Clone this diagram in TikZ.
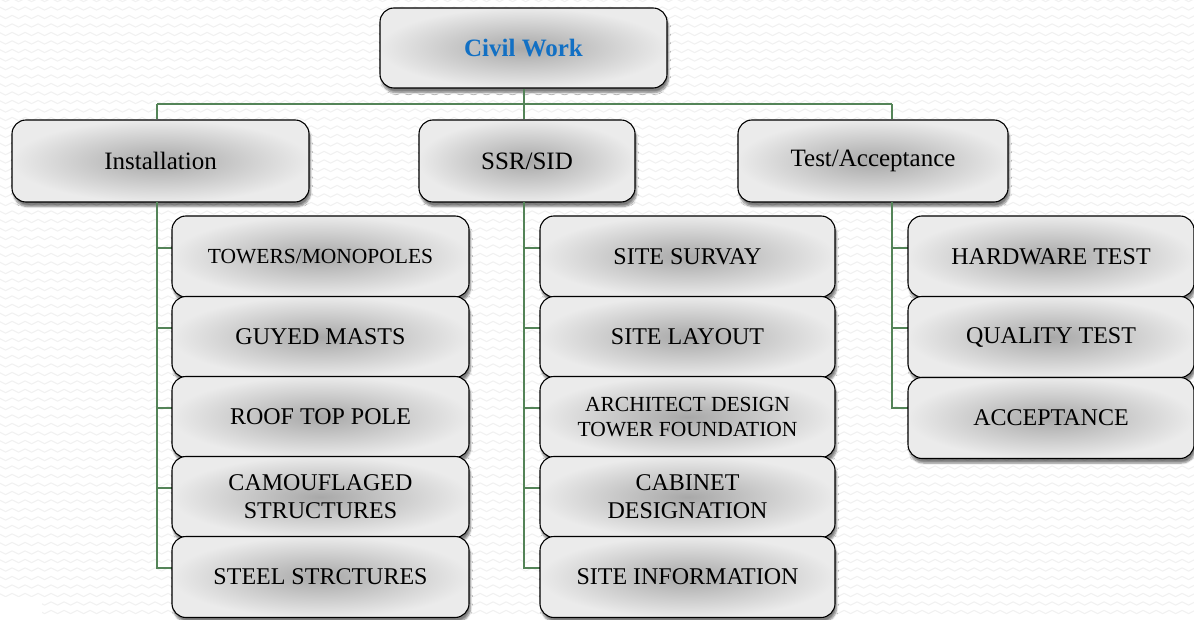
\documentclass[tikz,border=0pt]{standalone}
\usepackage{fontspec}
\setmainfont{Liberation Serif}
\usetikzlibrary{shadows,shadows.blur,decorations.pathmorphing,calc}
\definecolor{conngreen}{RGB}{84,132,88}
\definecolor{titleblue}{RGB}{18,112,196}
\definecolor{wavegray}{RGB}{241,241,241}
\tikzset{
  box/.style={draw=black, line width=1.1pt, rounded corners=14pt,
    inner color=black!34, outer color=black!8,
    blur shadow={shadow xshift=1.5pt, shadow yshift=-4.5pt, shadow blur steps=6, shadow opacity=50},
    align=center, text=black, inner sep=2pt},
  topbox/.style={box, minimum width=287pt, minimum height=80pt},
  midbox/.style={box, minimum height=82pt, font=\fontsize{25}{30}\selectfont},
  leaf/.style={box, minimum height=81pt, font=\fontsize{24}{28}\selectfont},
  conn/.style={draw=conngreen, line width=1.2pt},
}
\begin{document}
\begin{tikzpicture}[x=1pt,y=-1pt]
\useasboundingbox (0,0) rectangle (1194,620);
% faint wavy background
\begin{scope}
\clip (0,0) rectangle (1194,620);
\foreach \r in {0,8.5,...,620}{
  \draw[wavegray, line width=1.1pt, decorate, decoration={snake, amplitude=1.6pt, segment length=13pt}] (-5,\r) -- (1200,\r);
}
\fill[white] (0,597) rectangle (42,621);
\end{scope}

% top
\node[topbox, font=\fontsize{25}{30}\selectfont\bfseries, text=titleblue] (cw) at (523.5,48) {Civil Work};

% level 2
\node[midbox, minimum width=297pt] (inst) at (160.5,161) {Installation};
\node[midbox, minimum width=216pt] (ssr) at (527,161) {SSR/SID};
\node[midbox, minimum width=270pt] (test) at (873,161) {Test/Acceptance};

% bus coordinates
\coordinate (b1) at (157,104);
\coordinate (b2) at (524,104);
\coordinate (b3) at (892,104);

\draw[conn] (cw.south -| b2) -- (b2);
\draw[conn] (b1) -- (b3);
\draw[conn] (b1) -- (b1 |- inst.north);
\draw[conn] (b2) -- (b2 |- ssr.north);
\draw[conn] (b3) -- (b3 |- test.north);

% branch connectors (drawn before leaves)
\coordinate (c1) at (157,202);
\coordinate (c2) at (524,202);
\coordinate (c3) at (892,202);
\foreach \i/\y in {1/248,2/328,3/408,4/488,5/568}{
  \coordinate (p1\i) at (172,\y);
  \coordinate (p2\i) at (540,\y);
  \draw[conn] (c1) |- (p1\i);
  \draw[conn] (c2) |- (p2\i);
}
\foreach \i/\y in {1/248,2/328,3/408}{
  \coordinate (p3\i) at (908,\y);
  \draw[conn] (c3) |- (p3\i);
}

% column 1
\node[leaf, minimum width=297pt, font=\fontsize{21.5}{26}\selectfont] (i1) at (320.5,256.5) {TOWERS/MONOPOLES};
\node[leaf, minimum width=297pt] (i2) at (320.5,337) {GUYED MASTS};
\node[leaf, minimum width=297pt] (i3) at (320.5,417) {ROOF TOP POLE};
\node[leaf, minimum width=297pt] (i4) at (320.5,497) {CAMOUFLAGED\\STRUCTURES};
\node[leaf, minimum width=297pt] (i5) at (320.5,577) {STEEL STRCTURES};

% column 2
\node[leaf, minimum width=295pt] (s1) at (687.5,256.5) {SITE SURVAY};
\node[leaf, minimum width=295pt] (s2) at (687.5,337) {SITE LAYOUT};
\node[leaf, minimum width=295pt, font=\fontsize{21.5}{25}\selectfont] (s3) at (687.5,417) {ARCHITECT DESIGN\\TOWER FOUNDATION};
\node[leaf, minimum width=295pt, font=\fontsize{24}{28}\selectfont] (s4) at (687.5,497) {CABINET\\DESIGNATION};
\node[leaf, minimum width=295pt] (s5) at (687.5,577) {SITE INFORMATION};

% column 3
\node[leaf, minimum width=286pt] (t1) at (1051,256.5) {HARDWARE TEST};
\node[leaf, minimum width=286pt] (t2) at (1051,337) {QUALITY TEST};
\node[leaf, minimum width=286pt] (t3) at (1051,418) {ACCEPTANCE};
\end{tikzpicture}
\end{document}
